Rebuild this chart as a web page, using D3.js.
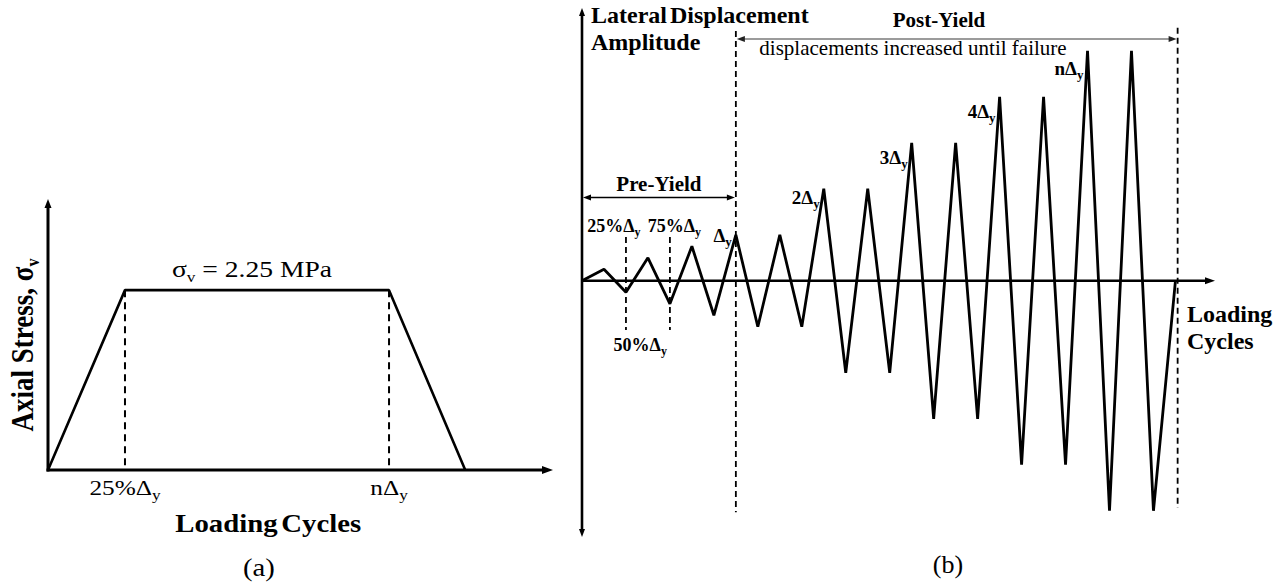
<!DOCTYPE html>
<html><head><meta charset="utf-8">
<script src="https://cdn.jsdelivr.net/npm/d3@7"></script>
<style>
html,body{margin:0;padding:0;background:#fff;}
svg{display:block;font-family:"Liberation Serif","Times New Roman",serif;}
</style></head><body>
<svg id="chart" width="1284" height="586"></svg>
<script>
// ---- (a) axial stress protocol ----
const stressCycles = [0, 1, 4.43, 5.42];      // loading-cycle position
const stressValues = [0, 2.25, 2.25, 0];      // MPa
const stressTicks = [
  {cycle: 1,    main: "25%Δ", sub: "y"},
  {cycle: 4.43, main: "nΔ",   sub: "y"}
];

// ---- (b) lateral displacement protocol (multiples of Δy, one entry per cycle) ----
const cycleAmplitudes = [0.25, 0.5, 0.75, 1, 1, 2, 2, 3, 3, 4, 4, 5, 5];
const peakLabels = [
  {step: 7,  main: "Δ",  sub: "y"},
  {step: 11, main: "2Δ", sub: "y"},
  {step: 15, main: "3Δ", sub: "y"},
  {step: 19, main: "4Δ", sub: "y"},
  {step: 23, main: "nΔ", sub: "y"}
];
const preYieldLabels = [
  {step: 1.45, pos: "above", main: "25%Δ", sub: "y"},
  {step: 4.2,  pos: "above", main: "75%Δ", sub: "y"},
  {step: 2.65, pos: "below", main: "50%Δ", sub: "y"}
];
const yieldStep = 7;
const failureStep = 27.1;

const svg = d3.select("#chart");

function arrowHead(g, x, y, dir, len, w, fill) {
  const p = d3.path();
  if (dir === "up")    { p.moveTo(x, y); p.lineTo(x - w/2, y + len); p.lineTo(x + w/2, y + len); }
  if (dir === "down")  { p.moveTo(x, y); p.lineTo(x - w/2, y - len); p.lineTo(x + w/2, y - len); }
  if (dir === "right") { p.moveTo(x, y); p.lineTo(x - len, y - w/2); p.lineTo(x - len, y + w/2); }
  if (dir === "left")  { p.moveTo(x, y); p.lineTo(x + len, y - w/2); p.lineTo(x + len, y + w/2); }
  p.closePath();
  g.append("path").attr("d", p.toString()).attr("fill", fill || "#000");
}

function subText(t, main, sub, size, subSize, shift, rest) {
  t.append("tspan").text(main);
  t.append("tspan").attr("font-size", subSize).attr("dy", shift).text(sub);
  if (rest) t.append("tspan").attr("dy", -shift).text(rest);
  return t;
}

// ================= panel (a) =================
const gA = svg.append("g");
const xA = d3.scaleLinear().domain([0, 6.56]).range([48, 553]);
const yA = d3.scaleLinear().domain([0, 3.39]).range([470, 199]);
const SX = 1.15;   // horizontal stretch of panel (a) lettering

// axes
gA.append("line").attr("x1", xA(0)).attr("x2", xA(0)).attr("y1", yA(0) + 1.5).attr("y2", yA(3.39) + 6)
  .attr("stroke", "#000").attr("stroke-width", 3);
arrowHead(gA, xA(0), yA(3.39), "up", 9, 7);
gA.append("line").attr("x1", xA(0) - 1.5).attr("x2", xA(6.56) - 8).attr("y1", yA(0)).attr("y2", yA(0))
  .attr("stroke", "#000").attr("stroke-width", 3);
arrowHead(gA, xA(6.56), yA(0), "right", 11, 8);

// dashed guides
stressTicks.forEach(d => {
  gA.append("line").attr("x1", xA(d.cycle)).attr("x2", xA(d.cycle))
    .attr("y1", yA(2.25)).attr("y2", yA(0))
    .attr("stroke", "#000").attr("stroke-width", 2).attr("stroke-dasharray", "7,5");
});

// stress path
gA.append("path")
  .datum(stressCycles.map((c, i) => [c, stressValues[i]]))
  .attr("d", d3.line().x(d => xA(d[0])).y(d => yA(d[1])))
  .attr("fill", "none").attr("stroke", "#000").attr("stroke-width", 2.6).attr("stroke-linejoin", "bevel");

// labels
const sig = gA.append("text").attr("transform", `translate(${xA(2.65)},${yA(2.25) - 13}) scale(${SX},1)`)
  .attr("text-anchor", "middle").attr("font-size", 24);
subText(sig, "σ", "v", 24, 15, 5, " = 2.25 MPa");

stressTicks.forEach(d => {
  const t = gA.append("text").attr("transform", `translate(${xA(d.cycle)},${yA(0) + 25}) scale(${SX},1)`)
    .attr("text-anchor", "middle").attr("font-size", 22);
  subText(t, d.main, d.sub, 22, 15, 5);
});

gA.append("text").attr("transform", `translate(${xA(2.86)},532) scale(${SX},1)`)
  .attr("text-anchor", "middle").attr("font-size", 25).attr("font-weight", "bold")
  .attr("word-spacing", -3).text("Loading Cycles");

const yl = gA.append("text").attr("transform", `translate(33,345) scale(${SX},1) rotate(-90)`)
  .attr("text-anchor", "middle").attr("font-size", 27).attr("font-weight", "bold");
subText(yl, "Axial Stress, σ", "v", 27, 16, 5);

gA.append("text").attr("transform", `translate(259,576) scale(${SX},1)`)
  .attr("text-anchor", "middle").attr("font-size", 25).text("(a)");

// ================= panel (b) =================
const gB = svg.append("g");
const xB = d3.scaleLinear().domain([0, 28.8]).range([582, 1215]);
const yB = d3.scaleLinear().domain([-5.57, 5.93]).range([537, 8]);

// displacement history: start at zero, push/pull each cycle, return to zero
const history = [[0, 0]];
cycleAmplitudes.forEach((a, i) => {
  history.push([2 * i + 1, a]);
  history.push([2 * i + 2, -a]);
});
history.push([2 * cycleAmplitudes.length + 1, 0]);

// axes
gB.append("line").attr("x1", xB(0)).attr("x2", xB(0)).attr("y1", yB(5.93) + 6).attr("y2", yB(-5.57) - 6)
  .attr("stroke", "#000").attr("stroke-width", 2.6);
arrowHead(gB, xB(0), yB(5.93), "up", 8, 6);
arrowHead(gB, xB(0), yB(-5.57), "down", 8, 6);
gB.append("line").attr("x1", xB(0)).attr("x2", xB(28.8) - 8).attr("y1", yB(0)).attr("y2", yB(0))
  .attr("stroke", "#000").attr("stroke-width", 2.6);
arrowHead(gB, xB(28.8), yB(0), "right", 10, 7);

// dashed guides
[2, 4].forEach(s => {
  gB.append("line").attr("x1", xB(s)).attr("x2", xB(s)).attr("y1", yB(0.95)).attr("y2", yB(-1.07))
    .attr("stroke", "#000").attr("stroke-width", 1.8).attr("stroke-dasharray", "6,4");
});
gB.append("line").attr("x1", xB(yieldStep)).attr("x2", xB(yieldStep)).attr("y1", yB(5.43)).attr("y2", yB(-5.03))
  .attr("stroke", "#000").attr("stroke-width", 1.8).attr("stroke-dasharray", "6,4");
gB.append("line").attr("x1", xB(failureStep)).attr("x2", xB(failureStep)).attr("y1", yB(5.5)).attr("y2", yB(-4.94))
  .attr("stroke", "#000").attr("stroke-width", 1.8).attr("stroke-dasharray", "6,4");

// zig-zag history
gB.append("path").datum(history)
  .attr("d", d3.line().x(d => xB(d[0])).y(d => yB(d[1])))
  .attr("fill", "none").attr("stroke", "#000").attr("stroke-width", 2.8).attr("stroke-linejoin", "bevel");

// pre-yield span
const preY = 197.5;
gB.append("line").attr("x1", xB(0) + 6).attr("x2", xB(yieldStep) - 6).attr("y1", preY).attr("y2", preY)
  .attr("stroke", "#000").attr("stroke-width", 1.3);
arrowHead(gB, xB(0) + 1, preY, "left", 8, 6);
arrowHead(gB, xB(yieldStep) - 1, preY, "right", 8, 6);
gB.append("text").attr("x", (xB(0) + xB(yieldStep)) / 2).attr("y", 191)
  .attr("text-anchor", "middle").attr("font-size", 21).attr("font-weight", "bold").text("Pre-Yield");

// post-yield span
const postY = 39;
gB.append("line").attr("x1", xB(yieldStep) + 6).attr("x2", xB(failureStep) - 6).attr("y1", postY).attr("y2", postY)
  .attr("stroke", "#7a7a7a").attr("stroke-width", 1.6);
arrowHead(gB, xB(yieldStep) + 1, postY, "left", 8, 6, "#222");
arrowHead(gB, xB(failureStep) - 1, postY, "right", 8, 6, "#222");
gB.append("text").attr("x", 939).attr("y", 27)
  .attr("text-anchor", "middle").attr("font-size", 21).attr("font-weight", "bold").text("Post-Yield");
gB.append("text").attr("x", 913).attr("y", 55)
  .attr("text-anchor", "middle").attr("font-size", 21).text("displacements increased until failure");

// axis titles
gB.append("text").attr("x", 591).attr("y", 23).attr("font-size", 24).attr("font-weight", "bold")
  .attr("word-spacing", -3).text("Lateral Displacement");
gB.append("text").attr("x", 591).attr("y", 50).attr("font-size", 24).attr("font-weight", "bold").text("Amplitude");
gB.append("text").attr("x", 1187).attr("y", 322).attr("font-size", 24).attr("font-weight", "bold").text("Loading");
gB.append("text").attr("x", 1187).attr("y", 349).attr("font-size", 24).attr("font-weight", "bold").text("Cycles");

// peak labels
peakLabels.forEach(d => {
  const a = history[d.step][1];
  const off = d.step === 7 ? 7 : d.step === 11 ? 15 : d.step === 23 ? 24 : 21;
  const t = gB.append("text").attr("x", xB(d.step) - 4).attr("y", yB(a) + off)
    .attr("text-anchor", "end").attr("font-size", 19).attr("font-weight", "bold");
  subText(t, d.main, d.sub, 19, 13, 4);
});
preYieldLabels.forEach(d => {
  const t = gB.append("text").attr("x", xB(d.step)).attr("y", d.pos === "above" ? 232 : 351)
    .attr("text-anchor", "middle").attr("font-size", 18).attr("font-weight", "bold");
  subText(t, d.main, d.sub, 18, 12, 4);
});

gB.append("text").attr("x", 948).attr("y", 573).attr("text-anchor", "middle").attr("font-size", 26).text("(b)");
</script>
</body></html>
